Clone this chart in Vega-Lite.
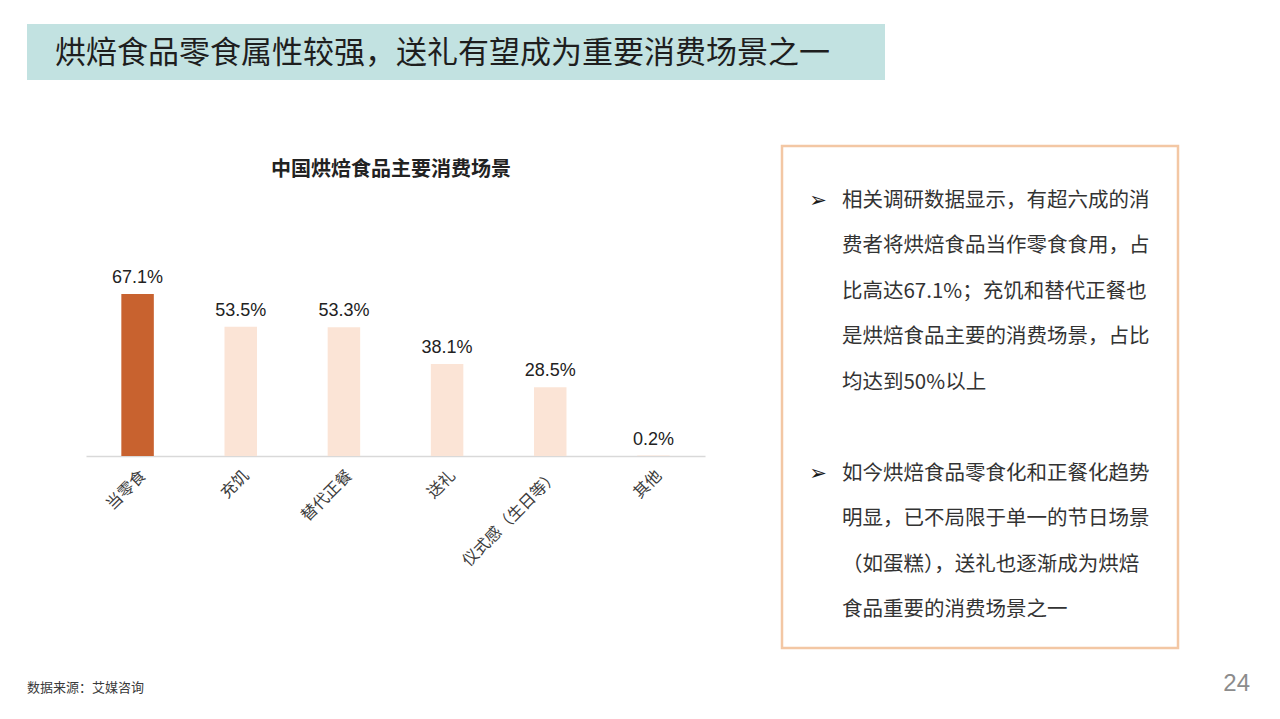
{
  "$schema": "https://vega.github.io/schema/vega-lite/v6.json",
  "background": "white",
  "padding": {"left": 27, "top": 24, "right": 0, "bottom": 0},
  "spacing": 64,
  "config": {"view": {"stroke": null}, "font": "Noto Sans CJK SC"},
  "datasets": {
    "bars": [
      {"scene": "当零食", "share": 0.671},
      {"scene": "充饥", "share": 0.535},
      {"scene": "替代正餐", "share": 0.533},
      {"scene": "送礼", "share": 0.381},
      {"scene": "仪式感（生日等）", "share": 0.285},
      {"scene": "其他", "share": 0.002}
    ],
    "bullets": [{"line": 1}, {"line": 7}],
    "lines": [
      {"line": 1, "text": "相关调研数据显示，有超六成的消"},
      {"line": 2, "text": "费者将烘焙食品当作零食食用，占"},
      {"line": 3, "text": "比高达67.1%；充饥和替代正餐也"},
      {"line": 4, "text": "是烘焙食品主要的消费场景，占比"},
      {"line": 5, "text": "均达到50%以上"},
      {"line": 7, "text": "如今烘焙食品零食化和正餐化趋势"},
      {"line": 8, "text": "明显，已不局限于单一的节日场景"},
      {"line": 9, "text": "（如蛋糕），送礼也逐渐成为烘焙"},
      {"line": 10, "text": "食品重要的消费场景之一"}
    ]
  },
  "vconcat": [
    {
      "width": 858,
      "height": 56,
      "view": {"fill": "#c2e2e1", "stroke": null},
      "title": {
        "text": "烘焙食品零食属性较强，送礼有望成为重要消费场景之一",
        "orient": "top", "anchor": "start", "frame": "group",
        "offset": -46, "dx": 28,
        "font": "Noto Sans CJK SC", "fontSize": 31, "fontWeight": "normal", "color": "#1e1e1e"
      },
      "data": {"values": [{}]},
      "mark": {"type": "text", "text": ""},
      "encoding": {}
    },
    {
      "vconcat": [
        {
          "hconcat": [
            {
              "width": 678,
              "height": 310,
              "data": {"name": "bars"},
              "title": {
                "text": "中国烘焙食品主要消费场景",
                "anchor": "middle", "frame": "group", "offset": -34, "dx": 25,
                "font": "Noto Sans CJK SC", "fontSize": 20, "fontWeight": "bold", "color": "#222222"
              },
              "encoding": {
                "x": {
                  "field": "scene", "type": "nominal", "sort": null,
                  "scale": {"range": [59, 678], "paddingInner": 0.685, "paddingOuter": 0.3425},
                  "axis": {
                    "title": null, "labelAngle": -45, "ticks": false, "tickSize": 0,
                    "labelPadding": 11, "labelOffset": 0, "labelOverlap": false,
                    "domainColor": "#d9d9d9", "domainWidth": 1.5, "grid": false,
                    "labelFont": "Noto Sans CJK SC", "labelFontSize": 16, "labelColor": "#3c3c3c"
                  }
                },
                "y": {
                  "field": "share", "type": "quantitative",
                  "scale": {"domain": [0, 1.284], "nice": false, "zero": true},
                  "axis": null
                }
              },
              "layer": [
                {
                  "mark": {"type": "bar"},
                  "encoding": {
                    "color": {
                      "condition": {"test": "datum.scene === '当零食'", "value": "#c8622f"},
                      "value": "#fbe4d6"
                    }
                  }
                },
                {
                  "mark": {"type": "text", "baseline": "alphabetic", "dy": -11, "font": "Liberation Sans", "fontSize": 18, "color": "#222222"},
                  "encoding": {"text": {"field": "share", "type": "quantitative", "format": ".1%"}}
                }
              ]
            },
            {
              "width": 396,
              "height": 502,
              "view": {"fill": "white", "stroke": "#f3c7a4", "strokeWidth": 2.5},
              "encoding": {
                "y": {
                  "field": "line", "type": "quantitative",
                  "scale": {"domain": [-0.2, 10.833], "reverse": true, "nice": false, "zero": false},
                  "axis": null
                }
              },
              "layer": [
                {
                  "data": {"name": "bullets"},
                  "mark": {"type": "text", "text": "➢", "font": "DejaVu Sans", "fontSize": 21, "fontWeight": "bold", "color": "#1a1a1a", "baseline": "middle", "align": "center"},
                  "encoding": {
                    "x": {"datum": 0.0909, "type": "quantitative", "scale": {"domain": [0, 1], "nice": false, "zero": false}, "axis": null}
                  }
                },
                {
                  "data": {"name": "lines"},
                  "mark": {"type": "text", "align": "left", "baseline": "middle", "font": "Noto Sans CJK SC", "fontSize": 20.5, "color": "#333333"},
                  "encoding": {
                    "x": {"datum": 0.1515, "type": "quantitative"},
                    "text": {"field": "text", "type": "nominal"}
                  }
                }
              ]
            }
          ],
          "spacing": 75
        },
        {
          "hconcat": [
            {
              "width": 120, "height": 1,
              "title": {
                "text": "数据来源：艾媒咨询", "orient": "bottom", "anchor": "start", "frame": "group", "offset": 12.5,
                "font": "Noto Sans CJK SC", "fontSize": 13, "fontWeight": "normal", "color": "#3a3a3a"
              },
              "data": {"values": [{}]},
              "mark": {"type": "text", "text": ""},
              "encoding": {}
            },
            {
              "width": 1100, "height": 1,
              "title": {
                "text": "24", "orient": "bottom", "anchor": "end", "frame": "group", "offset": 2,
                "font": "Liberation Sans", "fontSize": 24, "fontWeight": "normal", "color": "#8c8c8c"
              },
              "data": {"values": [{}]},
              "mark": {"type": "text", "text": ""},
              "encoding": {}
            }
          ],
          "spacing": 3
        }
      ],
      "spacing": 8
    }
  ]
}
